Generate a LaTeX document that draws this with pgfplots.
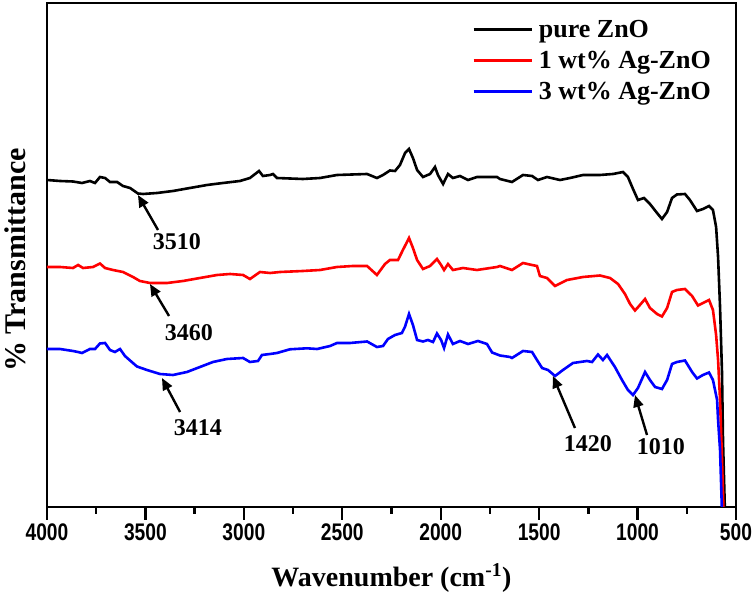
\documentclass[border=0pt]{standalone}
\usepackage{fontspec}
\setmainfont{Liberation Serif}
\newfontfamily\tickfont[FakeStretch=0.8]{Liberation Sans}
\usepackage{pgfplots}
\pgfplotsset{compat=1.18}
\usetikzlibrary{arrows.meta}

\begin{document}
\begin{tikzpicture}
\useasboundingbox (-47pt,-92pt) rectangle (709pt,507pt);
\begin{axis}[
  scale only axis, width=689pt, height=504pt,
  x dir=reverse, xmin=500, xmax=4000, ymin=0, ymax=504,
  axis line style={line width=2.6pt},
  xtick={500,1000,...,4000},
  minor x tick num=1,
  ytick=\empty,
  xtick pos=left,
  tick align=outside,
  major tick length=13pt, minor tick length=7pt,
  xtick style={line width=2.4pt, black},
  xticklabel style={font=\tickfont\bfseries\fontsize{24}{24}\selectfont},
  /pgf/number format/assume math mode=true,
  /pgf/number format/set thousands separator={},
  xlabel={Wavenumber (cm\textsuperscript{-1})},
  ylabel={\% Transmittance},
  xlabel style={font=\bfseries\fontsize{28}{30}\selectfont, at={(rel axis cs:0.5,0)}, anchor=center, yshift=-71pt},
  ylabel style={font=\bfseries\fontsize{30}{32}\selectfont, at={(rel axis cs:0,0.49)}, anchor=center, yshift=32pt},
  legend style={at={(rel axis cs:0.617,0.97)}, anchor=north west, draw=none, fill=none,
    font=\bfseries\fontsize{26}{26}\selectfont, row sep=8pt, inner sep=0pt,
    nodes={inner xsep=6pt}},
  legend cell align=left,
  legend image code/.code={\draw[#1] (0pt,0pt) -- (58pt,0pt);},
]
\addplot[black, line width=2.6pt] coordinates {
(4000,327) (3934,326) (3868,325.5) (3822,324) (3782,326) (3756,324) (3731,330) (3705,329)
(3680,325) (3644,325) (3614,321) (3578,319) (3538,313.5) (3512,313) (3441,314) (3360,316)
(3274,319) (3187,322) (3106,324) (3020,326) (2969,329) (2923,336) (2903,331) (2867,332)
(2852,333) (2832,329) (2700,328) (2613,329) (2527,332) (2374,333) (2324,329) (2293,332)
(2258,336.5) (2232,336) (2207,342) (2181,354) (2161,358) (2141,349) (2120,337) (2090,330)
(2054,333) (2029,340) (2014,332) (1988,323) (1963,333) (1938,329) (1902,331) (1861,327)
(1816,330) (1714,330) (1699,328) (1638,325) (1582,332) (1536,331) (1506,327) (1460,330)
(1394,327) (1343,329) (1277,332) (1191,332) (1125,333) (1074,335) (1049,330) (1023,318)
(998,307) (967,309) (937,303) (901,294) (876,288) (850,295) (825,309) (800,312.5)
(759,313) (734,307) (698,296) (668,298) (637,301) (617,297) (601,280) (591,250)
(581,200) (571,134) (566,67) (556,-6)
};
\addlegendentry{pure ZnO}
\addplot[red, line width=2.6pt] coordinates {
(4000,240) (3934,240) (3868,239) (3842,242) (3817,239) (3766,240) (3731,243.5) (3705,239)
(3665,237) (3614,235) (3563,230) (3528,226) (3477,224) (3390,224) (3309,226) (3223,229)
(3136,232) (3070,233) (3004,232) (2969,228) (2918,235) (2867,234) (2816,235) (2700,236)
(2613,237) (2527,240) (2446,241) (2374,241) (2324,232) (2283,243) (2258,247) (2217,247)
(2192,257) (2161,269) (2141,259) (2120,247) (2090,238) (2054,241) (2019,248) (1998,242)
(1983,237) (1963,243) (1938,237) (1887,239) (1816,237) (1714,240) (1699,241) (1638,237)
(1582,244) (1536,242) (1511,241) (1496,231) (1460,229) (1419,221) (1358,227) (1277,230)
(1191,231.5) (1140,229) (1099,223) (1064,213) (1038,203) (1013,196.5) (988,202) (962,208)
(937,199) (901,193) (876,190.5) (850,199) (825,215) (800,217) (759,218) (723,211)
(693,201.5) (668,204) (637,207) (617,197) (601,172) (591,147) (581,107) (571,47) (563,-6)
};
\addlegendentry{1 wt\% Ag-ZnO}
\addplot[blue, line width=2.6pt] coordinates {
(4000,158) (3934,158) (3868,156) (3842,155) (3822,154) (3782,158) (3756,158) (3731,163.5)
(3705,164) (3680,157) (3655,155) (3629,158) (3604,151) (3578,146.5) (3543,140.5) (3492,137)
(3426,133) (3360,132) (3289,135) (3223,140) (3157,145) (3086,148) (3004,149) (2969,145)
(2928,146) (2908,152) (2867,153) (2832,154) (2766,157.7) (2679,158.7) (2628,158) (2562,161)
(2527,164) (2461,164) (2374,165.5) (2324,160) (2293,161) (2268,168) (2232,172) (2197,174)
(2181,180.5) (2161,193) (2141,182) (2120,167) (2090,165.5) (2065,167) (2039,165) (2019,173.5)
(1998,167) (1983,159) (1963,172.5) (1938,163) (1902,166) (1861,163) (1811,166) (1765,163)
(1739,154.5) (1699,151.5) (1648,150) (1638,149) (1582,156) (1536,155) (1511,147) (1485,139)
(1455,137) (1419,131) (1379,137) (1328,144) (1257,146) (1231,145) (1201,152.5) (1176,147)
(1155,152) (1115,140) (1079,127) (1049,117) (1023,112) (998,119) (962,135) (937,127)
(911,120) (876,118) (850,127) (825,143) (800,145) (759,146.5) (723,135) (698,128.5)
(668,132) (637,134.5) (617,127) (596,107) (591,87) (581,57) (571,-6)
};
\addlegendentry{3 wt\% Ag-ZnO}
% annotations
\begin{scope}[line width=2.4pt, -{Triangle[length=12pt,width=10pt]}]
\draw (axis cs:3436,277) -- (axis cs:3538,312);
\draw (axis cs:3380,191) -- (axis cs:3477,223);
\draw (axis cs:3324,95) -- (axis cs:3416,129);
\draw (axis cs:1318,79) -- (axis cs:1430,131);
\draw (axis cs:952,72) -- (axis cs:1013,112);
\end{scope}
\begin{scope}[every node/.style={font=\bfseries\fontsize{24}{24}\selectfont}]
\node at (axis cs:3340,265) {3510};
\node at (axis cs:3279,174) {3460};
\node at (axis cs:3233,79) {3414};
\node at (axis cs:1252,63) {1420};
\node at (axis cs:881,60) {1010};
\end{scope}
\end{axis}
\end{tikzpicture}
\end{document}
